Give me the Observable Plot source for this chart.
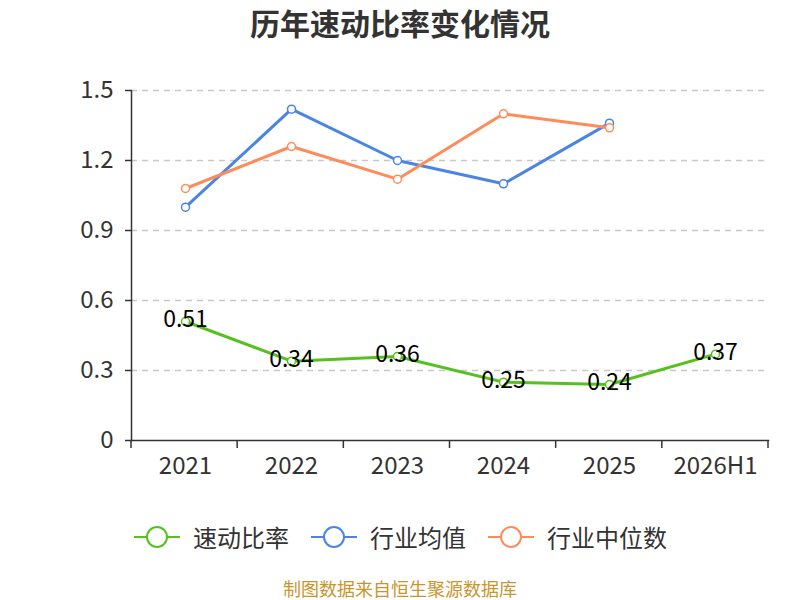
<!DOCTYPE html>
<html>
<head>
<meta charset="utf-8">
<script src="https://cdn.jsdelivr.net/npm/d3@7"></script>
<script src="https://cdn.jsdelivr.net/npm/@observablehq/plot@0.6"></script>
<style>
  body { margin: 0; background: #fff; font-family: "Noto Sans CJK SC", "Noto Sans", sans-serif; }
  #wrap { position: relative; width: 800px; height: 600px; overflow: hidden; }
  #title { position: absolute; top: 0; left: 0; width: 800px; text-align: center; font-size: 30px; font-weight: bold; color: #333; line-height: 44px; }
  #chart { position: absolute; top: 48px; left: 0; }
  #legend { position: absolute; top: 518px; left: 0; width: 800px; display: flex; justify-content: center; gap: 21px; font-size: 24px; color: #333; line-height: 38px; }
  #legend .item { display: flex; align-items: center; gap: 12px; }
  #caption { position: absolute; top: 577px; left: 0; width: 800px; text-align: center; font-size: 18px; color: #c9952e; line-height: 22px; }
</style>
</head>
<body>
<div id="wrap">
  <div id="title">历年速动比率变化情况</div>
  <div id="chart"></div>
  <div id="legend"></div>
  <div id="caption">制图数据来自恒生聚源数据库</div>
</div>
<script>
const categories = ["2021", "2022", "2023", "2024", "2025", "2026H1"];
const quickRatio = [0.51, 0.34, 0.36, 0.25, 0.24, 0.37];
const industryMeanYears = ["2021", "2022", "2023", "2024", "2025"];
const industryMean = [1.00, 1.42, 1.20, 1.10, 1.36];
const industryMedian = [1.08, 1.26, 1.12, 1.40, 1.34];
const yTicks = [0, 0.3, 0.6, 0.9, 1.2, 1.5];
const seriesNames = ["速动比率", "行业均值", "行业中位数"];
const colors = ["#56c11e", "#4b84e2", "#fe8c5a"];

const rows = [];
categories.forEach((c, i) => rows.push({cat: c, v: quickRatio[i], s: seriesNames[0]}));
industryMeanYears.forEach((c, i) => rows.push({cat: c, v: industryMean[i], s: seriesNames[1]}));
industryMeanYears.forEach((c, i) => rows.push({cat: c, v: industryMedian[i], s: seriesNames[2]}));
const quickRows = rows.filter(d => d.s === seriesNames[0]);

// tick marks at band boundaries for the x axis
const bandTicks = (index, scales, values, dims) => {
  const g = d3.create("svg:g");
  const x0 = dims.marginLeft, x1 = dims.width - dims.marginRight;
  const n = categories.length;
  const yb = dims.height - dims.marginBottom;
  for (let i = 0; i <= n; i++) {
    const xx = x0 + (x1 - x0) * i / n;
    g.append("line").attr("x1", xx).attr("x2", xx).attr("y1", yb).attr("y2", yb + 8)
      .attr("stroke", "#333").attr("stroke-width", 1.5);
  }
  return g.node();
};

const chart = Plot.plot({
  width: 800,
  height: 450,
  marginTop: 42,
  marginBottom: 58,
  marginLeft: 131,
  marginRight: 32,
  style: { fontFamily: "'Noto Sans CJK SC', 'Noto Sans', sans-serif", fontSize: "23px", color: "#333", background: "transparent" },
  x: { domain: categories, type: "band", padding: 0, label: null },
  y: { domain: [0, 1.5], label: null },
  color: { domain: seriesNames, range: colors },
  marks: [
    Plot.ruleY(yTicks.filter(d => d > 0), { stroke: "#c8c8c8", strokeWidth: 1.5, strokeDasharray: "6,5" }),
    Plot.axisY({ ticks: yTicks, tickSize: 6, tickPadding: 12, tickFormat: d => d === 0 ? "0" : d.toFixed(1), fontSize: 24, stroke: "#333", strokeWidth: 1.5 }),
    Plot.axisX({ tickSize: 0, tickPadding: 16, fontSize: 24 }),
    Plot.frame({ anchor: "left", stroke: "#333", strokeWidth: 1.5 }),
    Plot.frame({ anchor: "bottom", stroke: "#333", strokeWidth: 1.5 }),
    bandTicks,
    Plot.line(rows, { x: "cat", y: "v", z: "s", stroke: "s", strokeWidth: 3 }),
    Plot.dot(rows, { x: "cat", y: "v", stroke: "s", fill: "white", r: 4, strokeWidth: 1.5 }),
    Plot.text(quickRows, { x: "cat", y: "v", text: d => d.v.toFixed(2), fill: "#000", fontSize: 23, dy: -2 })
  ]
});
document.getElementById("chart").appendChild(chart);

const legend = document.getElementById("legend");
seriesNames.forEach((name, i) => {
  const item = document.createElement("div");
  item.className = "item";
  item.innerHTML = `<svg width="48" height="24"><line x1="1" x2="47" y1="12" y2="12" stroke="${colors[i]}" stroke-width="2"/><circle cx="24" cy="12" r="10" fill="white" stroke="${colors[i]}" stroke-width="2"/></svg><span>${name}</span>`;
  legend.appendChild(item);
});
</script>
</body>
</html>
